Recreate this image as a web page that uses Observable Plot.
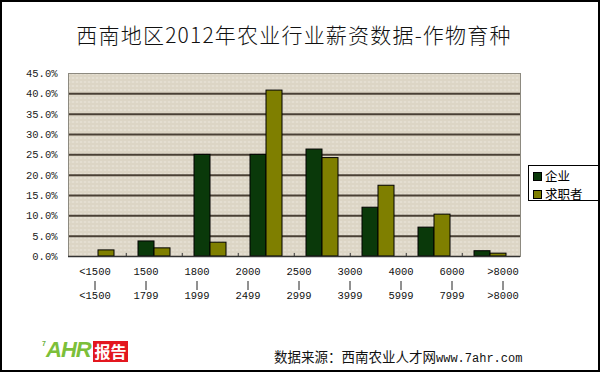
<!DOCTYPE html>
<html><head><meta charset="utf-8">
<script src="https://cdn.jsdelivr.net/npm/d3@7"></script>
<script src="https://cdn.jsdelivr.net/npm/@observablehq/plot@0.6"></script>
<style>
html,body{margin:0;padding:0;background:#fff}
#page{position:relative;width:600px;height:372px;overflow:hidden;background:#fff;font-family:"Noto Sans CJK SC",sans-serif}
#border{position:absolute;left:0;top:0;width:600px;height:372px;box-sizing:border-box;border:2px solid #000;pointer-events:none}
#title{position:absolute;left:0;top:19px;width:588px;text-align:center;font-size:21px;font-weight:300;line-height:30px;color:#111;letter-spacing:1.2px;white-space:nowrap}
#main{position:absolute;left:0;top:55px}
#labels{position:absolute;left:0;top:262px}
#legend{position:absolute;left:528px;top:165px;width:80px;height:36px;box-sizing:border-box;border:1px solid #000;background:#fff}
.li{position:absolute;left:4px;height:18px;line-height:18px;font-size:12.5px;color:#000;white-space:nowrap}
.sw{display:inline-block;width:7px;height:7px;border:1px solid #000;margin-right:3px;vertical-align:0px}
#footer{position:absolute;left:274px;top:346px;line-height:20px;font-size:13.5px;color:#111;white-space:nowrap}
#footer .url{font-family:"Liberation Mono",monospace;font-size:12px}
#logo{position:absolute;left:40px;top:340px;height:22px;white-space:nowrap}
#logo .seven{position:absolute;left:2px;top:0px;font:bold 7px "Liberation Sans",sans-serif;color:#6cb33f}
#logo .ahr{position:absolute;left:6px;top:-2px;font:italic bold 22px/24px "Liberation Sans",sans-serif;color:#7cbf3a;letter-spacing:-1px}
#logo .bg{position:absolute;left:53px;top:1px;width:35px;height:21px;background:#e3171f;color:#fff;font:bold 16px/21px "Noto Sans CJK SC",sans-serif;text-align:center}
</style>
</head>
<body>
<div id="page">
  <div id="title"></div>
  <div id="main"></div>
  <div id="labels"></div>
  <div id="legend"></div>
  <div id="logo"><span class="seven">7</span><span class="ahr">AHR</span><span class="bg">报告</span></div>
  <div id="footer">数据来源：西南农业人才网<span class="url">www.7ahr.com</span></div>
  <div id="border"></div>
</div>
<script>
const titleText = "西南地区2012年农业行业薪资数据-作物育种";
const seriesNames = ["企业", "求职者"];
const seriesColors = ["#0a390a", "#7f7f00"];
const barGroups = ["<1500", "1500-1799", "1800-1999", "2000-2499", "2500-2999", "3000-3999", "4000-5999", ">8000"];
const enterprise = [0, 3.7, 25.0, 25.0, 26.3, 12.0, 7.1, 1.3];
const seekers = [1.5, 2.0, 3.4, 40.8, 24.2, 17.4, 10.3, 0.7];
const yTicks = [0, 5, 10, 15, 20, 25, 30, 35, 40, 45];
const gridValues = [5, 10, 15, 20, 25, 30, 35, 40];
const tickTop = ["<1500", "1500", "1800", "2000", "2500", "3000", "4000", "6000", ">8000"];
const tickBottom = ["<1500", "1799", "1999", "2499", "2999", "3999", "5999", "7999", ">8000"];

document.getElementById("title").textContent = titleText;

const rows = [];
barGroups.forEach((g, i) => {
  rows.push({group: g, series: seriesNames[0], value: enterprise[i]});
  rows.push({group: g, series: seriesNames[1], value: seekers[i]});
});
const visible = rows.filter(d => d.value > 0);

const main = Plot.plot({
  width: 600, height: 204,
  marginLeft: 68, marginRight: 80, marginTop: 18, marginBottom: 3,
  style: {fontFamily: "'Liberation Mono', monospace", fontSize: "10.5px", color: "#222", background: "transparent", overflow: "visible"},
  x: {type: "band", domain: barGroups, paddingInner: 0.43, paddingOuter: 0.215, axis: null},
  y: {domain: [0, 45], ticks: yTicks, tickFormat: d => d.toFixed(1) + "%", tickSize: 0, tickPadding: 11, label: null},
  color: {domain: seriesNames, range: seriesColors},
  marks: [
    Plot.frame({fill: "url(#tex)", stroke: "none"}),
    Plot.ruleY(gridValues, {stroke: "#4a4035", strokeWidth: 2}),
    Plot.ruleX(barGroups.slice(1), {x: d => d, y1: 0, y2: 0.75, dx: -28.25, stroke: "#333"}),
    Plot.barY(visible.filter(d => d.series === seriesNames[0]), {x: "group", y: "value", fill: "series", stroke: "#000", insetRight: 16}),
    Plot.barY(visible.filter(d => d.series === seriesNames[1]), {x: "group", y: "value", fill: "series", stroke: "#000", insetLeft: 16}),
    Plot.frame({stroke: "#8d8a80"}),
    Plot.ruleY([0], {stroke: "#333", strokeWidth: 1.5})
  ]
});
d3.select(main).insert("defs", ":first-child").html(
  '<pattern id="tex" width="4" height="4" patternUnits="userSpaceOnUse">' +
  '<rect width="4" height="4" fill="#e4ded1"/>' +
  '<rect width="4" height="1" fill="#d4cbb9"/>' +
  '<rect x="2" y="2" width="1" height="1" fill="#c9c0ad"/>' +
  '</pattern>');
document.getElementById("main").appendChild(main);

const labels = Plot.plot({
  width: 600, height: 45,
  marginLeft: 69, marginRight: 72, marginTop: 5, marginBottom: 0,
  style: {fontFamily: "'Liberation Mono', monospace", fontSize: "10.5px", color: "#111", background: "transparent", overflow: "visible"},
  x: {type: "band", domain: tickTop, padding: 0, axis: null},
  marks: [
    Plot.text(tickTop, {x: d => d, text: d => d, frameAnchor: "top", lineAnchor: "top", fill: "#111"}),
    Plot.ruleX(tickTop, {x: d => d, insetTop: 14, insetBottom: 17, stroke: "#222"}),
    Plot.text(tickBottom, {x: (d, i) => tickTop[i], text: d => d, frameAnchor: "top", lineAnchor: "top", dy: 24, fill: "#111"})
  ]
});
document.getElementById("labels").appendChild(labels);

const legend = document.getElementById("legend");
seriesNames.forEach((s, i) => {
  const el = document.createElement("div");
  el.className = "li";
  el.style.top = (i === 0 ? 1 : 19) + "px";
  el.innerHTML = `<span class="sw" style="background:${seriesColors[i]}"></span>${s}`;
  legend.appendChild(el);
});
</script>
</body></html>
